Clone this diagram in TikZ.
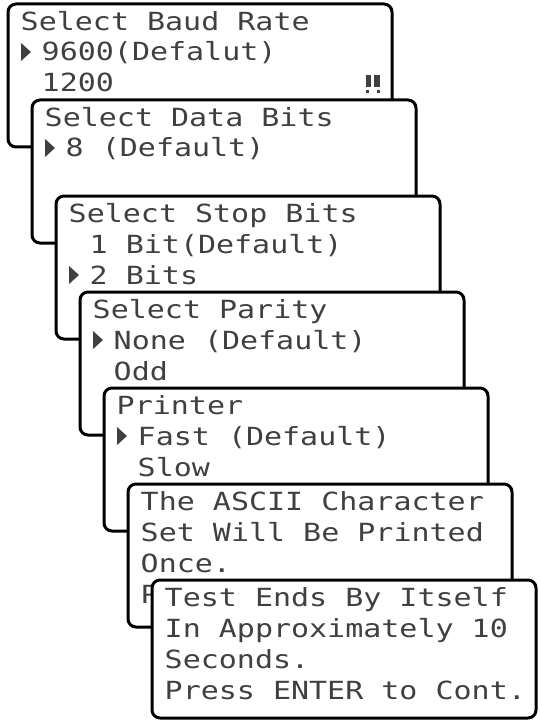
\documentclass[tikz,border=0pt]{standalone}
\usepackage{fontspec}
\newfontfamily\lcdfont[FakeStretch=1.2]{DejaVu Sans Mono}
\begin{document}
\begin{tikzpicture}[x=1pt,y=-1pt,
  panel/.style={line width=3pt, rounded corners=8pt, line join=round},
  lcd/.style={anchor=base west, inner sep=0pt, font=\lcdfont\fontsize{25pt}{25pt}\selectfont, text=black!75},
  cursor/.style={fill=black!75, draw=none}]
\useasboundingbox (0,0) rectangle (539,722);

% cascading panels 1..6 (open shapes joining the next panel)
\foreach \i in {0,...,5} {
  \pgfmathsetmacro\L{8+24*\i}
  \pgfmathsetmacro\R{392+24*\i}
  \pgfmathsetmacro\T{4+96*\i}
  \draw[panel] (\R,{\T+96}) -- (\R,\T) -- (\L,\T) -- (\L,{\T+143}) -- ({\L+24},{\T+143});
}

% panel 1 (L=8, T=4)
\node[lcd] (p1a) at (20.5,30.5) {Select Baud Rate};
\fill[cursor] (21,43) -- (31,52) -- (21,61) -- cycle;
\node[lcd] (p1b) at (41.5,61) {9600(Defalut)};
\node[lcd] (p1c) at (41.5,92) {1200};
\fill[black!75] (365.5,75) rectangle (371,87);
\fill[black!75] (374,75) rectangle (379.5,87);
\fill[black!75] (365.5,90.5) rectangle (368.5,93.5);
\fill[black!75] (376.5,90.5) rectangle (379.5,93.5);

% panel 2 (L=32, T=100)
\node[lcd] (p2a) at (44.5,126.5) {Select Data Bits};
\fill[cursor] (45,139) -- (55,148) -- (45,157) -- cycle;
\node[lcd] (p2b) at (65.5,157) {8 (Default)};

% panel 3 (L=56, T=196)
\node[lcd] (p3a) at (68.5,222.5) {Select Stop Bits};
\node[lcd] (p3b) at (89.5,253) {1 Bit(Default)};
\fill[cursor] (69,266) -- (79,275) -- (69,284) -- cycle;
\node[lcd] (p3c) at (89.5,284) {2 Bits};

% panel 4 (L=80, T=292)
\node[lcd] (p4a) at (92.5,318.5) {Select Parity};
\fill[cursor] (93,331) -- (103,340) -- (93,349) -- cycle;
\node[lcd] (p4b) at (113.5,349) {None (Default)};
\node[lcd] (p4c) at (113.5,380) {Odd};

% panel 5 (L=104, T=388)
\node[lcd] (p5a) at (116.5,414.5) {Printer};
\fill[cursor] (117,427) -- (127,436) -- (117,445) -- cycle;
\node[lcd] (p5b) at (137.5,445) {Fast (Default)};
\node[lcd] (p5c) at (137.5,476) {Slow};

% panel 6 (L=128, T=484)
\node[lcd] (p6a) at (140.5,510.5) {The ASCII Character};
\node[lcd] (p6b) at (140.5,541) {Set Will Be Printed};
\node[lcd] (p6c) at (140.5,572) {Once.};
\node[lcd] (p6d) at (140.5,603) {P};

% panel 7 (L=152, T=580), closed
\draw[panel, fill=white] (152,580) rectangle (536,718);
\node[lcd] (p7a) at (164.5,606.5) {Test Ends By Itself};
\node[lcd] (p7b) at (164.5,637) {In Approximately 10};
\node[lcd] (p7c) at (164.5,668) {Seconds.};
\node[lcd] (p7d) at (164.5,699) {Press ENTER to Cont.};
\end{tikzpicture}
\end{document}
